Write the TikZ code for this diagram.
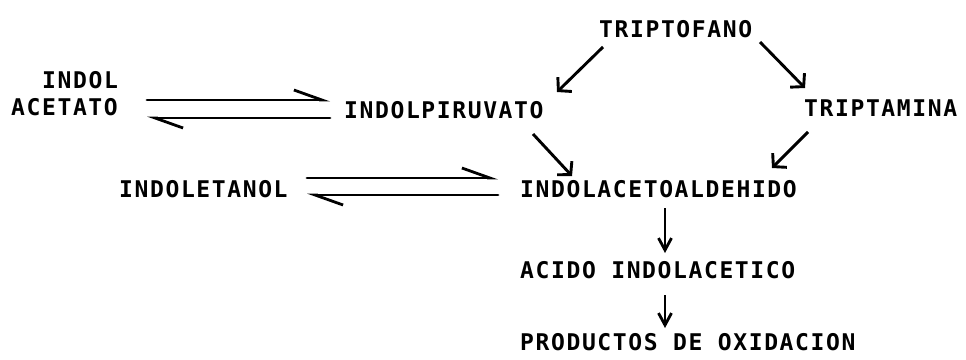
\documentclass[tikz,border=0pt]{standalone}
\usepackage{fontspec}
\setmonofont[LetterSpace=7, BoldFont={DejaVu Sans Mono Bold}]{DejaVu Sans Mono}
\usetikzlibrary{arrows.meta}
\tikzset{
  lbl/.style={anchor=base west, inner sep=0pt, font=\ttfamily\bfseries\fontsize{23}{25}\selectfont},
  arr/.style={line width=2.9pt, -{Straight Barb[length=9pt,width=20pt,line width=2.9pt]}},
  darr/.style={line width=2.4pt, -{Straight Barb[length=12pt,width=13pt,line width=2.8pt]}},
  hline/.style={line width=2.8pt, line cap=round},
  hrpR/.style={hline, -{Straight Barb[left,length=28pt,width=20pt,line width=2.8pt]}},
}
\begin{document}
\begin{tikzpicture}[x=1pt, y=-1pt]
  \useasboundingbox (0,0) rectangle (966,359);

  % compounds
  \node[lbl] (indol)   at (42,88)   {INDOL};
  \node[lbl] (acetato) at (11,115)  {ACETATO};
  \node[lbl] (pir)     at (344,118) {INDOLPIRUVATO};
  \node[lbl] (trp)     at (599,37)  {TRIPTOFANO};
  \node[lbl] (tam)     at (804,116) {TRIPTAMINA};
  \node[lbl] (etanol)  at (119,197) {INDOLETANOL};
  \node[lbl] (ald)     at (520,197) {INDOLACETOALDEHIDO};
  \node[lbl] (aia)     at (520,278) {ACIDO INDOLACETICO};
  \node[lbl] (prod)    at (520,350) {PRODUCTOS DE OXIDACION};

  % reversible steps (harpoon pairs)
  \coordinate (a1) at (147,100);
  \coordinate (a2) at (330,100);
  \coordinate (a3) at (330,118);
  \coordinate (a4) at (147,118);
  \draw[hrpR] (a1) -- (a2);
  \draw[hrpR] (a3) -- (a4);

  \coordinate (e1) at (307,178);
  \coordinate (e2) at (498,178);
  \coordinate (e3) at (498,195);
  \coordinate (e4) at (307,195);
  \draw[hrpR] (e1) -- (e2);
  \draw[hrpR] (e3) -- (e4);

  % irreversible steps
  \draw[arr] ([shift={(4,10)}]trp.base west) -- ([shift={(213,-26)}]pir.base west);
  \draw[arr] ([shift={(161,5)}]trp.base west) -- ([shift={(1,-28)}]tam.base west);
  \draw[arr] ([shift={(189,16)}]pir.base west) -- ([shift={(52,-21)}]ald.base west);
  \draw[arr] ([shift={(4,16)}]tam.base west) -- ([shift={(252,-29)}]ald.base west);
  \draw[darr] ([shift={(145,11)}]ald.base west) -- ([shift={(145,-25)}]aia.base west);
  \draw[darr] ([shift={(145,17)}]aia.base west) -- ([shift={(145,-22)}]prod.base west);
\end{tikzpicture}
\end{document}
